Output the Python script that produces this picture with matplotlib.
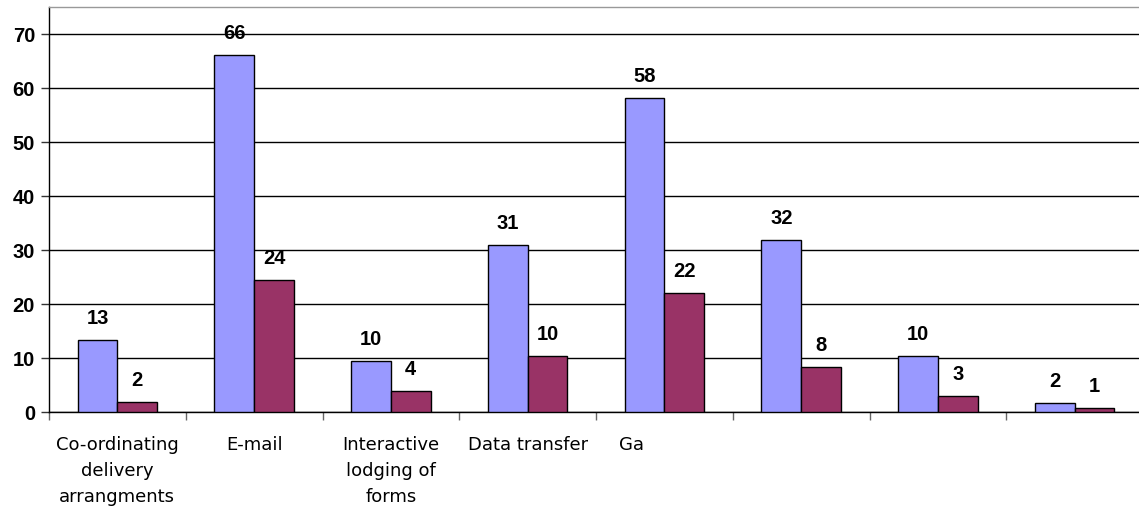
import numpy as np
import matplotlib.pyplot as plt
from matplotlib.ticker import FixedLocator
from matplotlib.transforms import ScaledTranslation

categories = ["Co-ordinating\ndelivery\narrangments", "E-mail", "Interactive\nlodging of\nforms",
              "Data transfer", "Ga", "", "", ""]
series_a = [13.3, 66.1, 9.5, 31.0, 58.1, 31.8, 10.4, 1.7]
series_b = [1.9, 24.4, 3.9, 10.4, 22.0, 8.3, 3.0, 0.7]
y_ticks = [0, 10, 20, 30, 40, 50, 60, 70]

color_a = "#9999FF"
color_b = "#993366"

fig = plt.figure(figsize=(11.39, 5.12), dpi=100)
ax = fig.add_axes([49 / 1139, 100 / 512, 1094 / 1139, 405 / 512])

n = len(categories)
x = np.arange(n) + 0.5
w = 0.29

bars_a = ax.bar(x - w / 2, series_a, w, color=color_a, edgecolor="black", linewidth=1.0, zorder=3)
bars_b = ax.bar(x + w / 2, series_b, w, color=color_b, edgecolor="black", linewidth=1.0, zorder=3)

for bars, vals in ((bars_a, series_a), (bars_b, series_b)):
    for b, v in zip(bars, vals):
        ax.annotate("{:.0f}".format(v), (b.get_x() + b.get_width() / 2, v),
                    xytext=(0, 8.5), textcoords="offset points", ha="center", va="bottom",
                    fontsize=14.5, fontweight="bold", family="Liberation Sans", zorder=4)

ax.set_xlim(0, n)
ax.set_ylim(0, 75)

ax.set_yticks(y_ticks)
ax.set_yticklabels([str(t) for t in y_ticks], fontsize=14.5, fontweight="bold", family="Liberation Sans")
ax.tick_params(axis="y", length=6, width=1, color="#333333", pad=4)
ax.yaxis.grid(True, color="black", linewidth=1.0, zorder=0)

# category boundaries get tick marks, labels sit at the centres
ax.xaxis.set_major_locator(FixedLocator(np.arange(n + 1)))
ax.set_xticklabels([""] * (n + 1))
ax.tick_params(axis="x", which="major", length=6, width=1, color="#666666")
ax.xaxis.set_minor_locator(FixedLocator(x))
ax.set_xticklabels(categories, minor=True, fontsize=13, linespacing=1.6, family="DejaVu Sans")
ax.tick_params(axis="x", which="minor", length=0, pad=17)

# the "Ga" label sits left of its slot centre
ga = ax.xaxis.get_minor_ticks()[4].label1
ga.set_transform(ga.get_transform() + ScaledTranslation(-33 / 100, 0, fig.dpi_scale_trans))

for side in ("top", "right"):
    ax.spines[side].set_color("#999999")
ax.spines["left"].set_color("black")
ax.spines["bottom"].set_color("black")
for s in ax.spines.values():
    s.set_linewidth(1.0)

fig.savefig("out.png", dpi=100)
